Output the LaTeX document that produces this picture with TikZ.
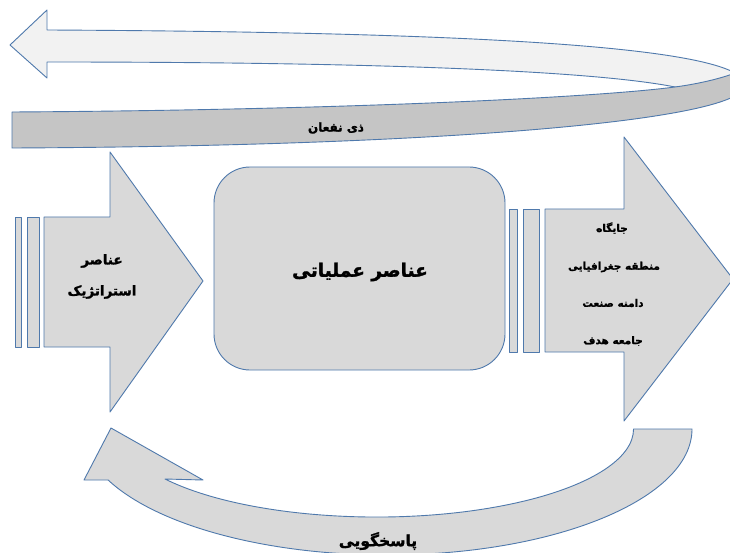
\documentclass[tikz,border=0pt]{standalone}
\usepackage{fontspec}
\newfontfamily\fa[Script=Arabic, BoldFeatures={FakeBold=1.6}]{DejaVu Sans}
\TeXXeTstate=1
\definecolor{edge}{RGB}{79,121,172}
\definecolor{lightband}{RGB}{242,242,242}
\definecolor{darkband}{RGB}{197,197,197}
\definecolor{shapefill}{RGB}{217,217,217}
\tikzset{
  shp/.style={draw=edge, line width=0.9pt, fill=shapefill, line join=round},
  lbl/.style={inner sep=0pt, text=black, font=\fa\bfseries},
}
\begin{document}
\begin{tikzpicture}[x=1pt,y=-1pt]
\useasboundingbox (0,0) rectangle (730,553);
\clip (0,0) rectangle (730,553);
\fill[white] (0,0) rectangle (730,553);
% top band: light back part with arrow head
\filldraw[shp, fill=lightband] (47,62) -- (47,78) -- (10,45) -- (47,10) -- (47,30)
  .. controls (450,32) and (745,45) .. (745,85) -- (675,87)
  .. controls (600,72) and (400,62) .. (47,62) -- cycle;
% top band: dark front part
\filldraw[shp, fill=darkband] (12,148) -- (12,112)
  .. controls (350,110) and (600,97) .. (675,87)
  .. controls (705,83) and (735,75) .. (745,68) -- (745,85)
  .. controls (745,120) and (450,146) .. (12,148) -- cycle;
\node[lbl, font=\fa\bfseries\fontsize{12}{14}\selectfont] (stake) at (336,128) {\beginR ذی نفعان\endR};
% left striped arrow
\filldraw[shp] (15,217) rectangle (21,347);
\filldraw[shp] (27,217) rectangle (39,347);
\filldraw[shp] (44,217) -- (110,217) -- (110,152) -- (203,281) -- (110,412) -- (110,347) -- (44,347) -- cycle;
\node[lbl, font=\fa\bfseries\fontsize{13.5}{15}\selectfont] (strat1) at (102,261) {\beginR عناصر\endR};
\node[lbl, font=\fa\bfseries\fontsize{13.5}{15}\selectfont] (strat2) at (102,292) {\beginR استراتژیک\endR};
% central rounded box
\filldraw[shp, rounded corners=36pt] (214,167) rectangle (505,370);
\node[lbl, font=\fa\bfseries\fontsize{18.5}{22}\selectfont] (ops) at (360,272) {\beginR عناصر عملیاتی\endR};
% right striped arrow
\filldraw[shp] (509,209) rectangle (517,352);
\filldraw[shp] (523,209) rectangle (539,352);
\filldraw[shp] (545,209) -- (624,209) -- (624,137) -- (733,279) -- (624,421) -- (624,352) -- (545,352) -- cycle;
\node[lbl, font=\fa\bfseries\fontsize{10.5}{12}\selectfont] (r1) at (612,228) {\beginR جایگاه\endR};
\node[lbl, font=\fa\bfseries\fontsize{10.5}{12}\selectfont] (r2) at (614,267) {\beginR منطقه جغرافیایی\endR};
\node[lbl, font=\fa\bfseries\fontsize{10.5}{12}\selectfont] (r3) at (613,303) {\beginR دامنه صنعت\endR};
\node[lbl, font=\fa\bfseries\fontsize{10.5}{12}\selectfont] (r4) at (613,341) {\beginR جامعه هدف\endR};
% bottom curved arrow
\filldraw[shp] (692,429) arc[start angle=0, end angle=156.1, x radius=305, y radius=126]
  -- (84,480) -- (111,428) -- (203,480) -- (165,479)
  arc[start angle=145.4, end angle=0, x radius=257, y radius=88] -- cycle;
\node[lbl, font=\fa\bfseries\fontsize{15.5}{18}\selectfont] (resp) at (378,541) {\beginR پاسخگویی\endR};
\end{tikzpicture}
\end{document}
